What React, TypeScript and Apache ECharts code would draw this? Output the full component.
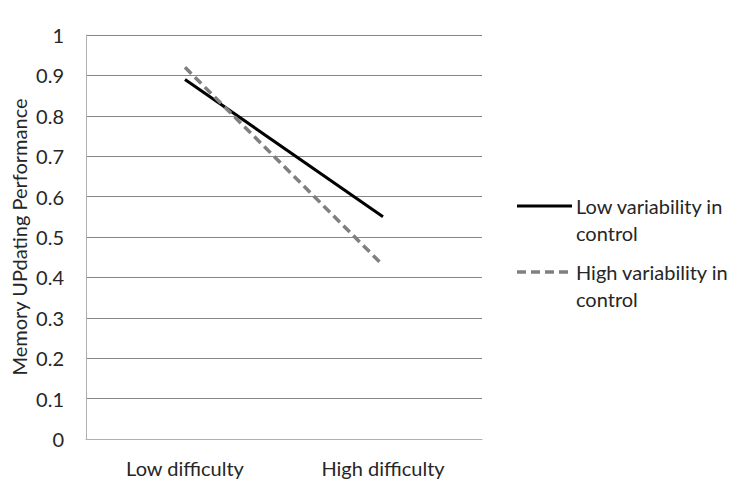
import React, { useEffect, useRef } from "react";
import * as echarts from "echarts";

const categories = ["Low difficulty", "High difficulty"];
const lowVariability = [0.89, 0.55];
const highVariability = [0.92, 0.43];
const seriesNames = ["Low variability in\ncontrol", "High variability in\ncontrol"];
const yAxisName = "Memory UPdating Performance";

const FONT = "Lato";

export default function App() {
  const ref = useRef<HTMLDivElement>(null);
  useEffect(() => {
    if (!ref.current) return;
    const chart = echarts.init(ref.current, null, { renderer: "svg" });
    chart.setOption({
      animation: false,
      backgroundColor: "#ffffff",
      grid: { left: 86, right: 252, top: 35, bottom: 55, containLabel: false, outerBoundsMode: "none" },
      xAxis: {
        type: "category",
        data: categories,
        boundaryGap: true,
        axisLine: { lineStyle: { color: "#b0b0b0", width: 1 } },
        axisTick: { show: false },
        axisLabel: { color: "#262626", fontSize: 20, fontFamily: FONT, margin: 19 },
      },
      yAxis: {
        type: "value",
        min: 0,
        max: 1,
        interval: 0.1,
        name: yAxisName,
        nameLocation: "middle",
        nameGap: 57,
        nameMoveOverlap: false,
        nameTextStyle: { color: "#262626", fontSize: 20, fontFamily: FONT },
        axisLine: { show: true, lineStyle: { color: "#b0b0b0", width: 1 } },
        axisTick: { show: false },
        splitLine: { lineStyle: { color: "#868686", width: 1 } },
        axisLabel: {
          color: "#262626",
          fontSize: 20,
          fontFamily: FONT,
          margin: 22,
          formatter: (v: number) => String(Math.round(v * 10) / 10),
        },
      },
      series: [
        {
          name: seriesNames[0],
          type: "line",
          data: lowVariability,
          symbol: "none",
          lineStyle: { color: "#000000", width: 3 },
        },
        {
          name: seriesNames[1],
          type: "line",
          data: highVariability,
          symbol: "none",
          lineStyle: { color: "#808080", width: 3.5, type: [9, 5] },
        },
      ],
      graphic: [
        {
          type: "line",
          shape: { x1: 517, y1: 206, x2: 572, y2: 206 },
          style: { stroke: "#000000", lineWidth: 3 },
        },
        {
          type: "text",
          x: 576,
          y: 192.5,
          style: {
            text: seriesNames[0],
            fill: "#262626",
            fontSize: 20,
            fontFamily: FONT,
            lineHeight: 27,
          },
        },
        {
          type: "line",
          shape: { x1: 517, y1: 272, x2: 572, y2: 272 },
          style: { stroke: "#808080", lineWidth: 3.5, lineDash: [9, 5] },
        },
        {
          type: "text",
          x: 576,
          y: 258.5,
          style: {
            text: seriesNames[1],
            fill: "#262626",
            fontSize: 20,
            fontFamily: FONT,
            lineHeight: 27,
          },
        },
      ],
    });
    return () => chart.dispose();
  }, []);
  return <div ref={ref} style={{ width: 734, height: 494, position: "absolute", left: 0, top: 0 }} />;
}
